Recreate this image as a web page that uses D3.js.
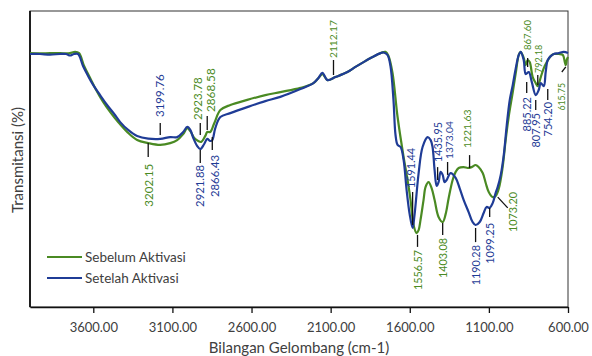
<!DOCTYPE html>
<html>
<head>
<meta charset="utf-8">
<script src="https://cdn.jsdelivr.net/npm/d3@7"></script>
<style>
html,body{margin:0;padding:0;background:#fff;}
svg{display:block;}
</style>
</head>
<body>
<svg id="chart" width="592" height="356"></svg>
<script>
// ---- Data (wavenumber cm-1, transmittance %) ----
const wnSebelum = [4000,3937,3873,3810,3772,3747,3715,3690,3658,3620,3582,3538,3494,3443,3386,3323,3253,3177,3114,3070,3032,3006,2987,2962,2937,2918,2892,2880,2861,2835,2797,2734,2627,2513,2418,2291,2209,2177,2152,2120,2070,1994,1943,1892,1835,1785,1753,1734,1709,1677,1639,1614,1595,1576,1557,1544,1532,1513,1500,1481,1462,1443,1418,1392,1373,1354,1329,1310,1291,1259,1234,1209,1184,1165,1139,1120,1101,1076,1057,1038,1013,994,975,949,930,911,899,880,867,855,842,823,804,791,772,753,734,709,690,658,633,620,614,608,600];
const tSebelum = [84.3,84.2,84.3,84.3,84.2,84.3,84.7,84.3,80,76,72,68,64.7,61.3,58,55.3,54.3,53.7,54.3,55.3,57.3,59.3,58.3,56,55,54.7,56.7,58,58,61,65.3,67,68.7,70.3,71.3,72.7,74.3,76,77.3,75.3,76.3,78,79.7,81.3,83,84.3,84.7,83.3,77.7,63,49.7,42,35.3,27,24.3,25.3,28.7,35.3,39.7,41.3,39.3,35.3,29.7,28,30.7,36,42,44.7,46,46.3,46,46.3,47,46.3,44.3,41,38,36.3,36.7,39,46.3,55.3,63,71.3,77.7,83.7,84.7,82.7,80.3,82,81.3,76.3,74.3,73.3,76.3,79.3,81.3,83.3,84,84,83.7,81.3,80.3,82,83];

const wnSetelah = [4000,3937,3873,3810,3772,3747,3722,3696,3665,3633,3601,3557,3513,3468,3430,3380,3323,3253,3177,3114,3070,3032,3006,2987,2968,2943,2924,2899,2880,2861,2848,2829,2797,2734,2627,2513,2418,2291,2209,2177,2152,2120,2070,1994,1943,1892,1835,1785,1766,1741,1722,1703,1690,1677,1658,1639,1620,1601,1582,1570,1544,1519,1487,1468,1456,1443,1430,1418,1405,1392,1380,1367,1342,1310,1285,1259,1228,1203,1184,1158,1133,1114,1095,1076,1057,1044,1025,1006,987,968,949,930,911,899,880,867,848,829,804,785,772,753,741,728,709,690,658,627,600];
const tSetelah = [84,84,83.8,84,84,83.5,84,84,80,76.7,73.7,70.3,67,64,61.3,58.7,56.7,55.8,55.7,56.3,56.3,58,59.7,58.7,56,53.3,52.3,54,55.7,55,55.3,59.3,63,64.3,66.3,68.3,69.7,72.3,74.3,76,77.7,75.3,76.3,78,79.7,81.3,83,84.3,84.5,83.7,80,68.7,57,53.7,53,48.7,38.7,30.7,26,30.3,44.3,53,56.3,55.3,53,45.3,40,41.3,44.7,43.7,41.3,42,44.3,42.7,39.3,35.3,31.3,28,27,28,31,33,32.7,34.3,37.7,39.7,43.7,50.3,60.3,68.7,73.7,79.3,83.7,84.7,82,77.3,78,74.7,70.3,72,74.3,73.3,78,82,83.3,84,84.3,84.7,84.3];

const xTicks = [3600,3100,2600,2100,1600,1100,600];

const seriesNames = ["Sebelum Aktivasi","Setelah Aktivasi"];
const seriesColors = ["#4a8a23","#1f3c96"];

// annotations: label, series index, tick wn1, wn2, T1, T2, direction, font size, text shift, gap
const annLabels = ["3199.76","3202.15","2923.78","2868.58","2921.88","2866.43","2112.17","1591.44","1435.95","1373.04","1221.63","1556.57","1403.08","1190.28","1099.25","1073.20","885.22","807.95","754.20","867.60","792.18","615.75"];
const annSeries = [1,0,0,0,1,1,0,1,1,1,0,0,0,1,1,0,1,1,1,0,0,0];
const annWn1 = [3177,3253,2924,2880,2924,2848,2082,1582,1424,1361,1222,1551,1392,1184,1095,1044,861,804,728,855,791,639];
const annWn2 = [3177,3253,2924,2880,2924,2848,2082,1582,1424,1361,1222,1551,1392,1184,1095,981,861,804,728,855,791,614];
const annT1 = [57,54.3,57,58.7,52,56.3,77,27,42,43.7,46,23.7,27.7,26,32.7,36.3,74.7,68.7,72.3,79.7,73.7,78];
const annT2 = [61,49.7,61,63.3,47.7,52,82,38,46.3,48,50.3,19.7,23.7,21.3,29.7,32.7,71,65.3,68.7,82.7,77,79.7];
const annDir = ["up","down","up","up","down","down","up","up","up","up","up","down","down","down","down","side","down","down","down","up","up","below"];
const annSize = [11.5,11.5,11.5,11.8,11.3,11.3,10.2,10.8,10.8,10.2,10.4,10.8,10.8,10.8,11,10.8,11,11,11,9.5,9,8.8];
const annShift = [-1,0,-3,3,-1,2,0,-2,0,1,-3,0,0,0,0,0,0,0,0,0,1,0];
const annGap = [6,7,3,4,2,5,2,4,5,3,7,3,3,3,6,0,4,3,2,8,2,0];

// ---- Layout ----
const svg = d3.select("#chart");
const W = 592, H = 356;
const x = d3.scaleLinear().domain([4000, 600]).range([30, 568]);
const y = d3.scaleLinear().domain([0, 100]).range([306, 6]);
const plotTop = 11, plotBottom = 307;
const font = "Lato, 'Open Sans', sans-serif";

svg.append("rect").attr("width", W).attr("height", H).attr("fill", "#fff");

// frame
svg.append("rect")
  .attr("x", x(4000)).attr("y", plotTop)
  .attr("width", x(600) - x(4000)).attr("height", plotBottom - plotTop)
  .attr("fill", "none").attr("stroke", "#333").attr("stroke-width", 1);

// x axis
const xAxis = d3.axisBottom(x).tickValues(xTicks).tickFormat(d3.format(".2f")).tickSize(6).tickSizeOuter(0);
const gx = svg.append("g").attr("transform", `translate(0,${plotBottom})`).call(xAxis);
gx.select(".domain").attr("stroke", "#111").attr("stroke-width", 1.5);
gx.selectAll(".tick line").attr("stroke", "#111").attr("stroke-width", 1.3);
gx.selectAll(".tick text").attr("font-family", font).attr("font-size", 13).attr("fill", "#404040").attr("dy", "1.25em");

// y axis line
svg.append("line").attr("x1", x(4000)).attr("x2", x(4000)).attr("y1", plotTop).attr("y2", plotBottom)
  .attr("stroke", "#111").attr("stroke-width", 1.8);

// lines
const line = d3.line().x(d => x(d[0])).y(d => y(d[1])).curve(d3.curveCatmullRom.alpha(0.5));
const dataSeb = wnSebelum.map((w, i) => [w, tSebelum[i]]);
const dataSet = wnSetelah.map((w, i) => [w, tSetelah[i]]);
[dataSeb, dataSet].forEach((d, i) => {
  svg.append("path").datum(d).attr("d", line)
    .attr("fill", "none").attr("stroke", seriesColors[i]).attr("stroke-width", 2.2)
    .attr("stroke-linejoin", "round");
});

// annotations
annLabels.forEach((lab, i) => {
  const x1 = x(annWn1[i]), x2 = x(annWn2[i]);
  const y1 = y(annT1[i]), y2 = y(annT2[i]);
  svg.append("line").attr("x1", x1).attr("x2", x2).attr("y1", y1).attr("y2", y2)
    .attr("stroke", "#111").attr("stroke-width", 1.3);
  const dir = annDir[i];
  let tx, ty, anchor;
  if (dir === "up") { tx = x2; ty = y2 - annGap[i]; anchor = "start"; }
  else if (dir === "down") { tx = x2; ty = y2 + annGap[i]; anchor = "end"; }
  else if (dir === "side") { tx = x2 + 5; ty = y2 - 16; anchor = "end"; }
  else { tx = x1; ty = y1 + 11; anchor = "end"; }
  svg.append("text")
    .attr("transform", `translate(${tx + annShift[i]},${ty}) rotate(-90)`)
    .attr("text-anchor", anchor)
    .attr("dominant-baseline", "central")
    .attr("font-family", font).attr("font-size", annSize[i])
    .attr("fill", seriesColors[annSeries[i]])
    .text(lab);
});

// legend
const legY = [257, 278];
seriesNames.forEach((n, i) => {
  svg.append("line").attr("x1", 47).attr("x2", 82).attr("y1", legY[i]).attr("y2", legY[i])
    .attr("stroke", seriesColors[i]).attr("stroke-width", 2.2);
  svg.append("text").attr("x", 85).attr("y", legY[i]).attr("dominant-baseline", "central")
    .attr("font-family", font).attr("font-size", 13.5).attr("fill", "#404040").text(n);
});

// axis titles
svg.append("text").attr("x", 299).attr("y", 353).attr("text-anchor", "middle")
  .attr("font-family", font).attr("font-size", 15).attr("fill", "#404040")
  .text("Bilangan Gelombang (cm-1)");
svg.append("text").attr("transform", "translate(17,160) rotate(-90)")
  .attr("text-anchor", "middle").attr("dominant-baseline", "central")
  .attr("font-family", font).attr("font-size", 15).attr("fill", "#404040")
  .text("Transmitansi (%)");
</script>
</body>
</html>
